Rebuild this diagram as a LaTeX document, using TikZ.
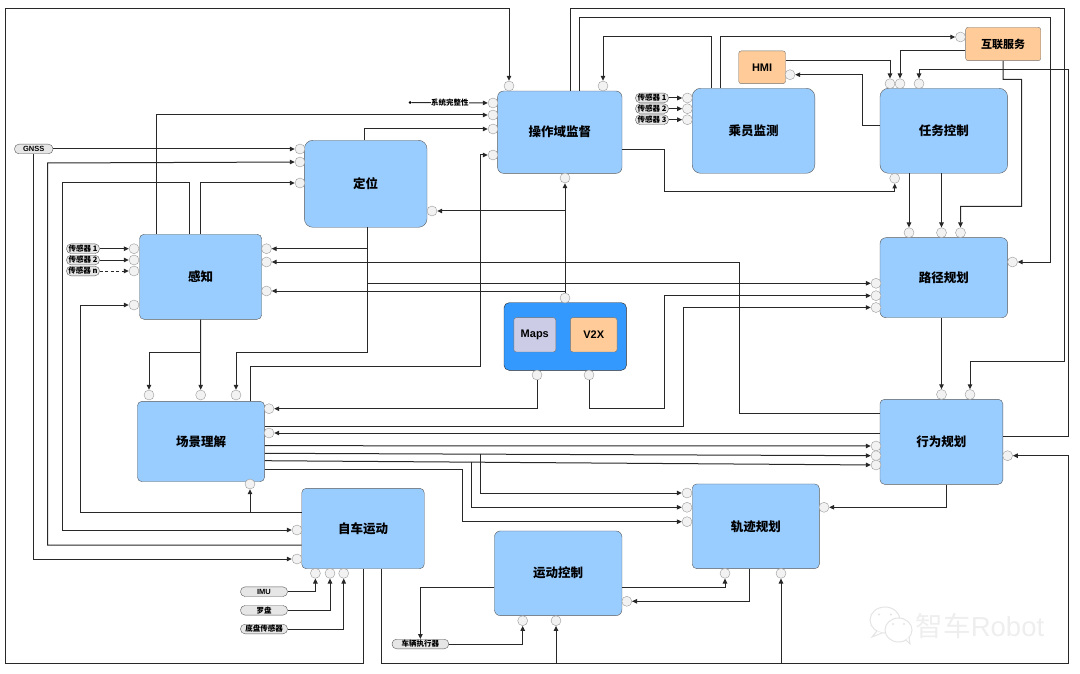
\documentclass[tikz,border=0pt]{standalone}
\usepackage{xcolor}
\usepackage{fontspec}
\setmainfont{Liberation Sans}
\newfontfamily\cjk{Noto Sans CJK SC}
\usetikzlibrary{positioning, arrows.meta, calc}
\definecolor{ModBlue}{RGB}{153,204,255}
\definecolor{MapBlue}{RGB}{51,153,255}
\definecolor{ExtOrange}{RGB}{255,204,153}
\definecolor{MapGrey}{RGB}{204,204,230}
\definecolor{PillGrey}{RGB}{230,230,230}
\definecolor{PortGrey}{RGB}{242,242,242}
\definecolor{WireGrey}{RGB}{40,40,40}
\definecolor{MarkGrey}{RGB}{228,228,228}
\definecolor{MarkPale}{RGB}{238,238,238}

\begin{document}
\begin{tikzpicture}[x=1pt, y=-1pt,
          modbox/.style={rectangle, rounded corners=6pt, draw=black!65, fill=ModBlue,
                         font=\cjk\bfseries\fontsize{12.5}{14}\selectfont, inner sep=0pt},
          extbox/.style={rectangle, rounded corners=2.5pt, draw=black!55, fill=ExtOrange,
                         font=\bfseries\fontsize{11}{13}\selectfont, inner sep=0pt},
          pill/.style={rectangle, rounded corners=4.5pt, draw=black!65, fill=PillGrey,
                       minimum height=9.6pt, inner sep=0pt,
                       font=\cjk\bfseries\fontsize{7.5}{8}\selectfont},
          port/.style={circle, draw=black!40, fill=PortGrey, minimum size=10pt, inner sep=0pt},
          arr/.style={-{Triangle[length=5pt, width=4.5pt]}, line width=1pt, draw=WireGrey}
        ]
        \useasboundingbox (0,0) rectangle (1080,674);

        % Module blocks
        \node[modbox, minimum width=124.4pt, minimum height=82.3pt] (jiandu)  at (559.8,132.2) {操作域监督};
        \node[modbox, rounded corners=8.5pt, minimum width=122.6pt, minimum height=87pt]   (dingwei) at (365.7,183.8) {定位};
        \node[modbox, rounded corners=4.5pt, minimum width=122.2pt, minimum height=85pt]   (ganzhi)  at (200.6,276.8) {感知};
        \node[modbox, rounded corners=8.5pt, minimum width=122.6pt, minimum height=85pt]   (chengyuan) at (753.5,130.8) {乘员监测};
        \node[modbox, rounded corners=8.5pt, minimum width=127.6pt, minimum height=85pt]   (renwu)   at (943.8,130.8) {任务控制};
        \node[modbox, minimum width=127.6pt, minimum height=80pt]   (lujing)  at (943.8,277.7) {路径规划};
        \node[modbox, rounded corners=4.5pt, minimum width=122.8pt, minimum height=85pt]   (xingwei) at (941.4,441.8) {行为规划};
        \node[modbox, rounded corners=4.5pt, minimum width=127.1pt, minimum height=80.4pt] (changjing) at (201,441.5) {场景理解};
        \node[modbox, rounded corners=4.5pt, minimum width=122.5pt, minimum height=80.4pt] (ziche)   at (363,528.5) {自车运动};
        \node[modbox, minimum width=127.5pt, minimum height=84.7pt] (kongzhi) at (558.2,573.3) {运动控制};
        \node[modbox, rounded corners=4.5pt, minimum width=127.1pt, minimum height=84.7pt] (guiji)   at (755.8,526.3) {轨迹规划};

        % Outside services
        \node[extbox, minimum width=46.8pt, minimum height=32.7pt] (hmi) at (762.1,67.3) {HMI};
        \node[extbox, font=\cjk\bfseries\fontsize{11}{13}\selectfont,
              minimum width=75.1pt, minimum height=33.4pt] (hulian) at (1003.2,44) {互联服务};

        % Map group
        \node[rectangle, rounded corners=5pt, draw=black!85, fill=MapBlue,
              minimum width=122.4pt, minimum height=67.6pt] (mapgroup) at (565.2,336.5) {};
        \node[extbox, fill=MapGrey, minimum width=42pt, minimum height=34.3pt] (maps) at (534.8,334.8) {Maps};
        \node[extbox, minimum width=46.7pt, minimum height=34.3pt] (vtox) at (593.7,334.8) {V2X};

        % Sensor tags
        \node[pill, font=\bfseries\fontsize{7.5}{8}\selectfont, minimum width=38.5pt] (gnss) at (33.7,149) {GNSS};
        \node[pill, minimum width=33pt] (sa1) at (83,248.7) {传感器 1};
        \node[pill, minimum width=33pt] (sa2) at (83,260) {传感器 2};
        \node[pill, minimum width=33pt] (san) at (83,271) {传感器 n};
        \node[pill, minimum width=33pt] (sb1) at (652,98) {传感器 1};
        \node[pill, minimum width=33pt] (sb2) at (652,108.7) {传感器 2};
        \node[pill, minimum width=33pt] (sb3) at (652,119.7) {传感器 3};
        \node[pill, font=\bfseries\fontsize{7.5}{8}\selectfont, minimum width=47pt] (imu) at (264,591.7) {IMU};
        \node[pill, minimum width=47pt] (luopan) at (264,610.3) {罗盘};
        \node[pill, minimum width=47pt] (dipan) at (264,629) {底盘传感器};
        \node[pill, minimum width=56.7pt] (actuator) at (420.4,644) {车辆执行器};
        \node[circle, fill=black, minimum size=3pt, inner sep=0pt] (integrity) at (410,102.5) {};

        % Ports
        \foreach \n/\x/\y in {pJdT1/509/86, pJdT2/603/86, pJdB/565/178,
                              pJd1/493/103, pJd2/493/115, pJd3/493/129, pJd4/493/155,
                              pDw1/300/149, pDw2/300/162, pDw3/300/183, pDwR/432/211,
                              pGz1/134/248.7, pGz2/134/260, pGz3/134/271, pGz4/134/305,
                              pGzR1/266.5/248.7, pGzR2/266.5/262, pGzR3/266.5/291,
                              pCy1/687.4/98, pCy2/687.4/108.7, pCy3/687.4/119.7,
                              pRw1/890/83.7, pRw2/900/83.7, pRw3/919/83.7, pRwB/894.7/178.3,
                              pHmi/790/74.7, pHl/960.5/37,
                              pLj1/909/232.7, pLj2/941.5/232.7, pLj3/960.5/232.7, pLjR/1012.5/262,
                              pLjL1/876/283.3, pLjL2/876/295.7, pLjL3/876/307.5,
                              pXw1/941.5/394.5, pXw2/970/394.5, pXwR/1007.6/455.7,
                              pXwL1/876/446, pXwL2/876/455.7, pXwL3/876/465,
                              pCj1/149/395, pCj2/200.7/395, pCj3/236/395,
                              pCjR1/269/408.7, pCjR2/269/433, pCjB/250/484,
                              pZc1/297/530, pZc2/297/559,
                              pZcB1/315.4/573.3, pZcB2/330/573.3, pZcB3/343.7/573.3,
                              pGj1/687/493, pGj2/687/507.3, pGj3/687/521.7, pGjR/824/507.3,
                              pGjB1/725/573.3, pGjB2/781/573.3,
                              pKzR/626.8/601.3, pKzB1/522.7/620.7, pKzB2/556/620.7,
                              pMapT/565/298, pMapB1/537/375, pMapB2/589/375}
          \node[port] (\n) at (\x,\y) {};

        % Sensor inputs
        \draw[arr] (gnss) -- (pDw1);
        \draw[arr] (gnss.south) |- (pZc2);
        \draw[arr] (sa1) -- (pGz1);
        \draw[arr] (sa2) -- (pGz2);
        \draw[arr, dash pattern=on 3pt off 2.5pt] (san) -- (pGz3);
        \draw[arr] (sb1) -- (pCy1);
        \draw[arr] (sb2) -- (pCy2);
        \draw[arr] (sb3) -- (pCy3);
        \draw[arr] (imu) -| (pZcB1);
        \draw[arr] (luopan) -| (pZcB2);
        \draw[arr] (dipan) -| (pZcB3);
        \draw[arr] (integrity) -- node[fill=white, inner sep=0.5pt, font=\cjk\bfseries\fontsize{7.5}{8}\selectfont]{系统完整性} (pJd1);

        % Ego motion outputs
        \draw[arr] (ziche.south -| 363,0) -- (363,663) -- (5,663) -- (5,9) -| (pJdT1);
        \coordinate (busS) at (381.5,663);
        \draw[arr] (ziche.south -| busS) -- (busS) -- (1068.6,663) |- (pXwR);
        \draw[arr] (pKzB2 |- busS) -- (pKzB2);
        \draw[arr] (pGjB2 |- busS) -- (pGjB2);
        \draw[arr] (ziche.west |- 0,545) -- (47.5,545) -- (47.5,163) -- (pDw2);
        \draw[arr] (ziche.west |- 0,512) -- (80,512) |- (pGz4);
        \draw[arr] (pCjB |- 0,512) -- (pCjB);

        % Perception outputs
        \draw[arr] (ganzhi.north -| 189,0) -- (189,183) -- (62,183) |- (pZc1);
        \draw[arr] (ganzhi.north) |- (pDw3);
        \draw[arr] (ganzhi.north -| 156,0) |- (pJd2);
        \draw[arr] (ganzhi.south) -- (pCj2);
        \draw[arr] (pCj2 |- 0,352) -| (pCj1);

        % Localisation outputs
        \draw[arr] (dingwei.north -| 364,0) |- (pJd3);
        \draw[arr] (dingwei.south -| 367.5,0) -- (367.5,352) -| (pCj3);
        \draw[arr] (pGzR1 -| 367.5,0) -- (pGzR1);
        \draw[arr] (pLjL1 -| 367.5,0) -- (pLjL1);

        % Map outputs
        \draw[arr] (pMapT) -- (pJdB);
        \draw[arr] (pMapT |- pDwR) -- (pDwR);
        \draw[arr] (pMapT |- pGzR3) -- (pGzR3);
        \draw[arr] (pMapB1) |- (pCjR1);
        \draw[arr] (pMapB2) -- (589,408.3) -- (664,408.3) |- (pLjL2);

        % Scene outputs
        \draw[arr] (changjing.north -| 250,0) -- (250,366) -- (480,366) |- (pJd4);
        \draw[arr] (changjing.east |- 0,426.5) -- (683,426.5) |- (pLjL3);
        \draw[arr] (changjing.east |- 0,445.7) -- (pXwL1);
        \draw[arr] (changjing.east |- 0,453.3) -- (pXwL2);
        \draw[arr] (changjing.east |- 0,460.7) -- (pXwL3);
        \draw[arr] (480,453.6) |- (pGj1);
        \draw[arr] (471,461.6) |- (pGj2);
        \draw[arr] (changjing.east |- 0,469.3) -- (462,469.3) |- (pGj3);

        % Supervision and occupant lines
        \draw[arr] (jiandu.east |- 0,149.7) -- (664,149.7) -- (664,192) -| (pRwB);
        \draw[arr] (jiandu.north -| 570,0) -- (570,9) -- (1064,9) -- (1064,361.7) -| (pXw2);
        \draw[arr] (jiandu.north -| 579.6,0) -- (579.6,18) -- (1050,18) |- (pLjR);
        \draw[arr] (chengyuan.north -| 711.5,0) -- (711.5,36.7) -| (pJdT2);
        \draw[arr] (chengyuan.north -| 720.8,0) |- (pHl);

        % Mission and routing lines
        \draw[arr] (hmi.east |- 0,60.3) -| (pRw1);
        \draw[arr] (renwu.west |- 0,125.7) -- (862.3,125.7) |- (pHmi);
        \draw[arr] (hulian.west |- 0,51) -| (pRw2);
        \draw[arr] (hulian.south) -- (1003,79.3) -- (1021.7,79.3) -- (1021.7,206.3) -| (pLj3);
        \draw[arr] (renwu.south -| pLj1) -- (pLj1);
        \draw[arr] (renwu.south -| pLj2) -- (pLj2);
        \draw[arr] (lujing.south -| pXw1) -- (pXw1);

        % Behaviour and trajectory lines
        \draw[arr] (xingwei.east |- 0,436.7) -- (1068.6,436.7) -- (1068.6,70) -| (pRw3);
        \draw[arr] (xingwei.west |- pCjR2) -- (pCjR2);
        \draw[arr] (xingwei.west |- 0,413.3) -- (739,413.3) |- (pGzR2);
        \draw[arr] (xingwei.south -| 946.7,0) |- (pGjR);
        \draw[arr] (guiji.south -| 749,0) |- (pKzR);
        \draw[arr] (kongzhi.east |- 0,587) -| (pGjB1);
        \draw[arr] (kongzhi.west |- 0,587.3) -| (actuator);
        \draw[arr] (actuator) -| (pKzB1);

        % Corner mark
        \begin{scope}[MarkGrey, line width=1pt]
          \draw[fill=white] (885,620) ellipse (15pt and 13pt);
          \draw[fill=white] (877,631) -- (872,637) -- (882,633);
          \draw[fill=white] (898.5,630) ellipse (13.5pt and 12pt);
          \draw[fill=white] (906,640) -- (910,644) -- (909,637);
          \fill (879,614.5) circle (1.2pt) (891,614.5) circle (1.2pt);
          \fill (893,624) circle (1.2pt) (904,624) circle (1.2pt);
        \end{scope}
        \node[text=MarkPale, font=\fontsize{27.5}{29}\selectfont, inner sep=0pt] (mark) at (980,626)
              {{\cjk 智车}Robot};
      \end{tikzpicture}
\end{document}
